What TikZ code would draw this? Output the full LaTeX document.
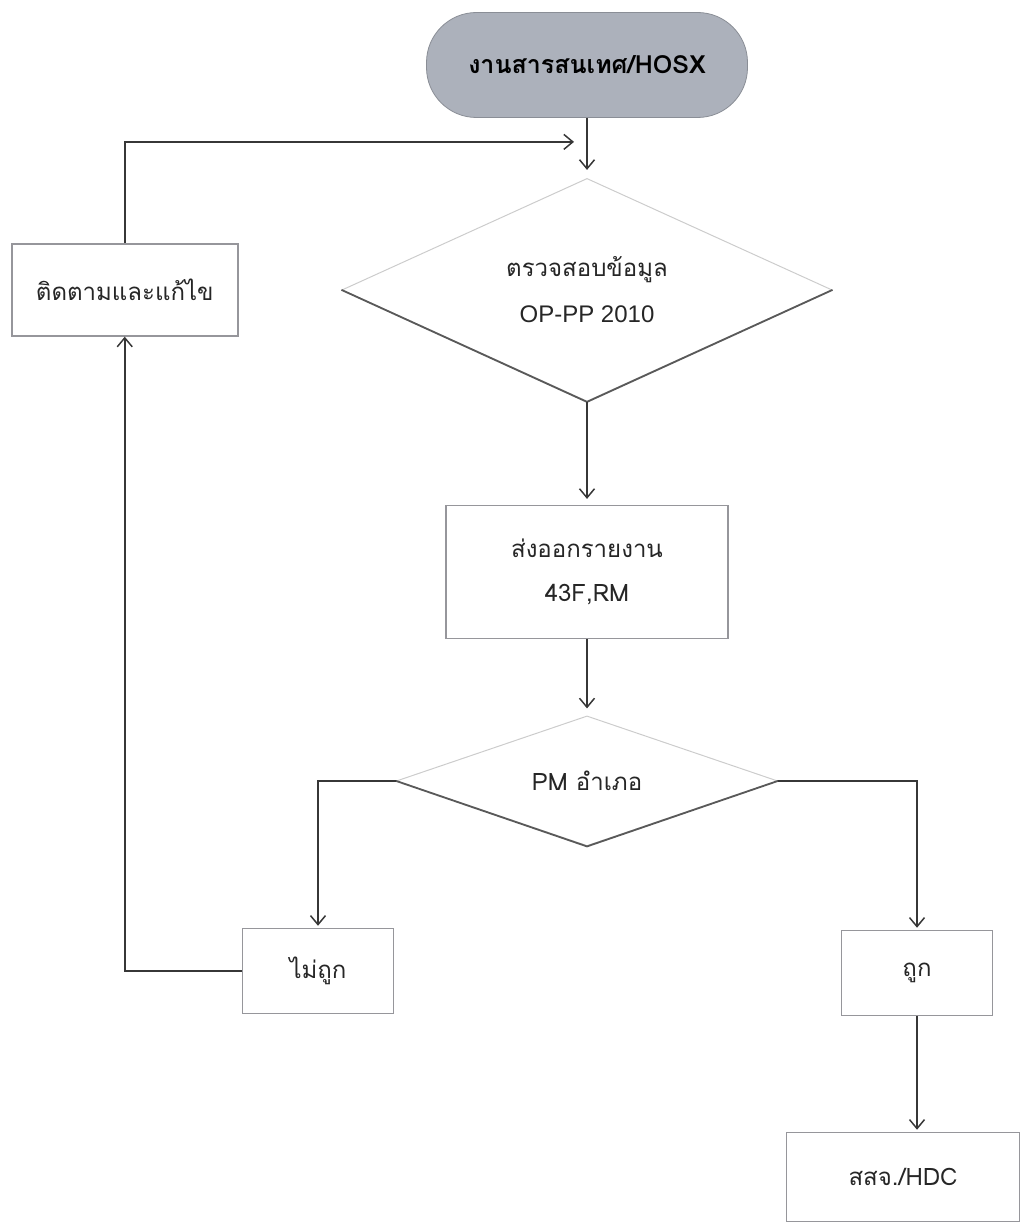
\documentclass[tikz,border=0pt]{standalone}
\usepackage{fontspec}
\usepackage{xcolor}
\usetikzlibrary{positioning,shapes.geometric,arrows.meta,calc}
\newfontfamily\thaifont[Script=Thai]{Loma}
\newfontfamily\latinfont{Liberation Sans}
\definecolor{termfill}{RGB}{172,177,187}
\definecolor{linegray}{RGB}{55,55,55}
\definecolor{boxgray}{RGB}{150,150,155}

\begin{document}
\begin{tikzpicture}[
		x=1pt, y=-1pt,
		node distance=60pt,
		font=\thaifont\fontsize{24}{46}\selectfont,
		text=black!85,
		termnode/.style={rectangle, rounded corners=50pt, fill=termfill, draw=termfill!80!black, thick, minimum width=321pt, minimum height=105pt, text=black, font=\thaifont\bfseries\fontsize{25}{30}\selectfont},
		boxnode/.style={rectangle, draw=boxgray, line width=1.5pt, align=center, inner sep=0pt},
		decnode/.style={diamond, aspect=2.2, draw=gray!40, line width=1pt, align=center, inner sep=0pt},
		flow/.style={draw=linegray, line width=1.5pt, -{Straight Barb[length=9pt, width=15pt, line width=1.5pt]}},
	]
		\useasboundingbox (0,0) rectangle (1023,1228);

		% nodes
		\node[termnode] (info) at (587,65)							{งานสารสนเทศ/HOSX};
		\node[decnode, minimum width=490pt, minimum height=223pt] (check) [below=60pt of info]	{ตรวจสอบข้อมูล\\{\latinfont\fontsize{24}{50}\selectfont OP-PP 2010}};
		\node[boxnode, minimum width=282pt, minimum height=133pt] (export) [below=103pt of check]	{ส่งออกรายงาน\\[-2pt]43F,RM};
		\node[decnode, minimum width=381pt, minimum height=130pt] (pm) [below=76pt of export]	{PM อำเภอ};
		\node[boxnode, minimum width=226pt, minimum height=92pt] (follow) [left=103pt of check]	{ติดตามและแก้ไข};
		\node[boxnode, minimum width=151pt, minimum height=85pt] (wrong) at (318,971)		{ไม่ถูก};
		\node[boxnode, minimum width=151pt, minimum height=85pt] (right) at (917,973)		{ถูก};
		\node[boxnode, minimum width=233pt, minimum height=89pt] (hdc) at (903,1177)		{สสจ./HDC};

		% shadow on lower edges of the decisions
		\draw[gray!70!black, line width=1.8pt] (check.west) -- (check.south) -- (check.east);
		\draw[gray!70!black, line width=1.8pt] (pm.west) -- (pm.south) -- (pm.east);

		% lines
		\coordinate (join) at ($(info.south)!0.4!(check.north)$);
		\draw[flow, shorten >=8pt] (info.south) -- (check.north);
		\draw[flow] (follow.north) |- ($(join)+(-13pt,0)$);
		\draw[flow, shorten >=6pt] (check.south) -- (export.north);
		\draw[flow, shorten >=7pt] (export.south) -- (pm.north);
		\draw[flow, shorten >=2pt] (pm.west) -| (wrong.north);
		\draw[flow, shorten >=2pt] (pm.east) -| (right.north);
		\draw[flow] (wrong.west) -| (follow.south);
		\draw[flow, shorten >=2pt] (right.south) -- (right.south |- hdc.north);
	\end{tikzpicture}
\end{document}
